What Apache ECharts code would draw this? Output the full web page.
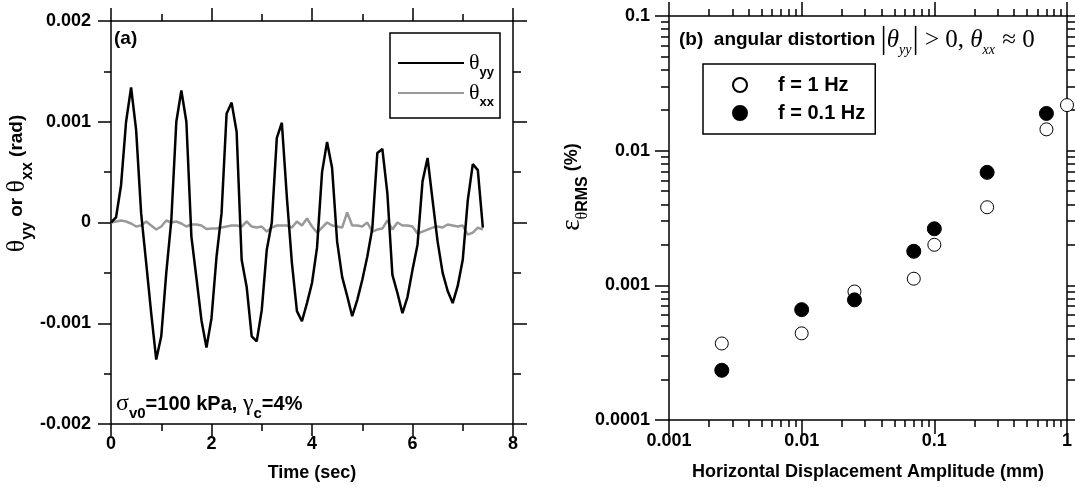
<!DOCTYPE html>
<html>
<head>
<meta charset="utf-8">
<script src="https://cdn.jsdelivr.net/npm/echarts@6/dist/echarts.min.js"></script>
<style>
html,body{margin:0;padding:0;background:#fff;}
#c{width:1075px;height:487px;}
</style>
</head>
<body>
<div id="c"></div>
<script>
// ---------- (a) time histories ----------
const timeSec = [
  0.0,0.1,0.2,0.3,0.4,0.5,0.6,0.7,0.8,0.9,
  1.0,1.1,1.2,1.3,1.4,1.5,1.6,1.7,1.8,1.9,
  2.0,2.1,2.2,2.3,2.4,2.5,2.6,2.7,2.8,2.9,
  3.0,3.1,3.2,3.3,3.4,3.5,3.6,3.7,3.8,3.9,
  4.0,4.1,4.2,4.3,4.4,4.5,4.6,4.7,4.8,4.9,
  5.0,5.1,5.2,5.3,5.4,5.5,5.6,5.7,5.8,5.9,
  6.0,6.1,6.2,6.3,6.4,6.5,6.6,6.7,6.8,6.9,
  7.0,7.1,7.2,7.3,7.4
];
const thetaYY = [
  0.00000, 0.00005, 0.00037, 0.00100, 0.00134, 0.00092, 0.00009,-0.00040,-0.00090,-0.00136,
 -0.00113,-0.00050, 0.00002, 0.00100, 0.00131, 0.00100,-0.00014,-0.00055,-0.00097,-0.00124,
 -0.00095,-0.00034, 0.00009, 0.00108, 0.00119, 0.00090,-0.00037,-0.00064,-0.00113,-0.00118,
 -0.00087,-0.00027, 0.00000, 0.00084, 0.00099, 0.00025,-0.00040,-0.00088,-0.00098,-0.00080,
 -0.00060,-0.00025, 0.00050, 0.00080, 0.00054,-0.00019,-0.00054,-0.00073,-0.00093,-0.00077,
 -0.00057,-0.00034,-0.00006, 0.00069, 0.00073, 0.00029,-0.00052,-0.00070,-0.00090,-0.00074,
 -0.00047,-0.00022, 0.00041, 0.00064, 0.00022,-0.00019,-0.00050,-0.00068,-0.00080,-0.00063,
 -0.00037, 0.00022, 0.00058, 0.00052,-0.00005
];
const thetaXX = [
  0.000000, 0.000010, 0.000020, 0.000010,-0.000010,-0.000040,-0.000030, 0.000010,-0.000030,-0.000070,
 -0.000040, 0.000020, 0.000000, 0.000010,-0.000010,-0.000040,-0.000020,-0.000020,-0.000030,-0.000065,
 -0.000060,-0.000060,-0.000050,-0.000040,-0.000030,-0.000030,-0.000040, 0.000010,-0.000040,-0.000050,
 -0.000040,-0.000090,-0.000050,-0.000030,-0.000030,-0.000030,-0.000050, 0.000010,-0.000030, 0.000040,
 -0.000040,-0.000100,-0.000050, 0.000000,-0.000030,-0.000040,-0.000050, 0.000100,-0.000030,-0.000030,
 -0.000040, 0.000000,-0.000090,-0.000070,-0.000060, 0.000020,-0.000070, 0.000000,-0.000030,-0.000030,
 -0.000040,-0.000110,-0.000090,-0.000070,-0.000050,-0.000040,-0.000050,-0.000020,-0.000030,-0.000040,
 -0.000030,-0.000120,-0.000100,-0.000050,-0.000070
];
const seriesNamesA = ['θyy', 'θxx'];

// ---------- (b) RMS angular distortion ----------
const dispAmp1Hz  = [0.0025, 0.01, 0.025, 0.07, 0.1, 0.25, 0.7, 1.0];
const eps1Hz      = [0.00037, 0.00044, 0.00090, 0.00112, 0.0020, 0.0038, 0.0144, 0.0218];
const dispAmp01Hz = [0.0025, 0.01, 0.025, 0.07, 0.1, 0.25, 0.7];
const eps01Hz     = [0.000234, 0.00066, 0.00078, 0.00179, 0.00263, 0.0069, 0.0189];
const seriesNamesB = ['f = 1 Hz', 'f = 0.1 Hz'];
const xTickLabelsB = ['0.001', '0.01', '0.1', '1'];
const yTickLabelsB = ['0.0001', '0.001', '0.01', '0.1'];
const minorMultipliers = [2, 3, 4, 5, 6, 7, 8, 9];

function labelFor(list) {
  return function (v) {
    for (const s of list) { if (Math.abs(Number(s) - v) <= Math.abs(v) * 1e-6) return s; }
    return '';
  };
}
function logMinor(decadesFrom, decadesTo) {
  const out = [];
  for (let d = decadesFrom; d < decadesTo; d++) {
    for (const m of minorMultipliers) out.push(d + Math.log10(m));
  }
  return out;
}

const SANS = 'Liberation Sans';
const SERIF = 'Liberation Serif';
const lineW = 1.5;
const axLine = { show: true, onZero: false, lineStyle: { color: '#000', width: lineW } };
const noLine = { show: false, onZero: false };
const tickStyle = { color: '#000', width: lineW };
const lblStyle = { color: '#000', fontFamily: SANS, fontWeight: 'bold', fontSize: 18 };
const titleStyle = { color: '#000', fontFamily: SANS, fontWeight: 'bold', fontSize: 18 };

const chart = echarts.init(document.getElementById('c'), null, { renderer: 'canvas' });

const option = {
  backgroundColor: '#fff',
  animation: false,
  grid: [
    { left: 111, top: 21, width: 402, height: 403 },
    { left: 669, top: 16, width: 402, height: 404 }
  ],
  legend: [
    {
      data: seriesNamesA,
      left: 390, top: 33,
      orient: 'vertical',
      padding: [19, 6, 9, 7],
      itemWidth: 66, itemHeight: 14, itemGap: 3,
      borderColor: '#000', borderWidth: 1.5,
      backgroundColor: '#fff',
      itemStyle: { opacity: 0 },
      formatter: function (name) { return '{t|θ}{s|' + name.slice(1) + '}'; },
      textStyle: {
        color: '#000',
        rich: {
          t: { fontFamily: SERIF, fontSize: 22, color: '#000', lineHeight: 20, verticalAlign: 'middle' },
          s: { fontFamily: SANS, fontWeight: 'bold', fontSize: 13, color: '#000', lineHeight: 13, verticalAlign: 'bottom', padding: [0, 0, -6, 0] }
        }
      }
    },
    {
      data: seriesNamesB,
      left: 703, top: 64,
      orient: 'vertical',
      padding: [11, 10, 11, 29],
      itemWidth: 66, itemHeight: 14, itemGap: 8,
      borderColor: '#000', borderWidth: 1.5,
      textStyle: { color: '#000', fontFamily: SANS, fontWeight: 'bold', fontSize: 20, lineHeight: 20 }
    }
  ],
  xAxis: [
    { // 0: (a) bottom
      gridIndex: 0, type: 'value', position: 'bottom', min: 0, max: 8, interval: 2,
      axisLine: axLine,
      axisTick: { length: 12, lineStyle: tickStyle },
      minorTick: { show: true, splitNumber: 2, length: 7, lineStyle: tickStyle },
      splitLine: { show: false }, minorSplitLine: { show: false },
      axisLabel: Object.assign({ margin: 11 }, lblStyle),
      name: 'Time (sec)', nameLocation: 'middle', nameGap: 40,
      nameTextStyle: titleStyle
    },
    { // 1: (a) top mirror
      gridIndex: 0, type: 'value', position: 'top', min: 0, max: 8, interval: 2,
      axisLine: axLine,
      axisTick: { length: 13, lineStyle: tickStyle },
      minorTick: { show: true, splitNumber: 2, length: 7, lineStyle: tickStyle },
      splitLine: { show: false }, axisLabel: { show: false }
    },
    { // 2: (b) bottom log
      gridIndex: 1, type: 'log', logBase: 10, position: 'bottom', min: 0.001, max: 1,
      axisLine: axLine,
      axisTick: { length: 14, lineStyle: tickStyle },
      splitLine: { show: false },
      axisLabel: Object.assign({ margin: 12, formatter: labelFor(xTickLabelsB) }, lblStyle),
      name: 'Horizontal Displacement Amplitude (mm)', nameLocation: 'middle', nameGap: 43,
      nameTextStyle: titleStyle
    },
    { // 3: (b) bottom minor ticks
      gridIndex: 1, type: 'value', position: 'bottom', min: -3, max: 0,
      axisLine: noLine,
      axisTick: { length: 7, customValues: logMinor(-3, 0), lineStyle: tickStyle },
      splitLine: { show: false }, axisLabel: { show: false }
    },
    { // 4: (b) top log
      gridIndex: 1, type: 'log', logBase: 10, position: 'top', min: 0.001, max: 1,
      axisLine: axLine,
      axisTick: { length: 14, lineStyle: tickStyle },
      splitLine: { show: false }, axisLabel: { show: false }
    },
    { // 5: (b) top minor ticks
      gridIndex: 1, type: 'value', position: 'top', min: -3, max: 0,
      axisLine: noLine,
      axisTick: { length: 7, customValues: logMinor(-3, 0), lineStyle: tickStyle },
      splitLine: { show: false }, axisLabel: { show: false }
    }
  ],
  yAxis: [
    { // 0: (a) left
      gridIndex: 0, type: 'value', position: 'left', min: -0.002, max: 0.002, interval: 0.001,
      axisLine: axLine,
      axisTick: { length: 13, lineStyle: tickStyle },
      minorTick: { show: true, splitNumber: 2, length: 7, lineStyle: tickStyle },
      splitLine: { show: false }, minorSplitLine: { show: false },
      axisLabel: Object.assign({ margin: 20 }, lblStyle),
      name: '{t|θ}{s|yy}{n| or }{t|θ}{s|xx}{n| (rad)}',
      nameLocation: 'middle', nameRotate: 90, nameGap: 72,
      nameTextStyle: {
        padding: [0, 0, 0, 78],
        rich: {
          t: { fontFamily: SERIF, fontSize: 26, color: '#000', lineHeight: 26, verticalAlign: 'middle' },
          s: { fontFamily: SANS, fontWeight: 'bold', fontSize: 16, color: '#000', lineHeight: 16, verticalAlign: 'bottom', padding: [0, 0, -6, 0] },
          n: { fontFamily: SANS, fontWeight: 'bold', fontSize: 19, color: '#000', lineHeight: 26, verticalAlign: 'middle' }
        }
      }
    },
    { // 1: (a) right mirror
      gridIndex: 0, type: 'value', position: 'right', min: -0.002, max: 0.002, interval: 0.001,
      axisLine: axLine,
      axisTick: { length: 14, lineStyle: tickStyle },
      minorTick: { show: true, splitNumber: 2, length: 8, lineStyle: tickStyle },
      splitLine: { show: false }, axisLabel: { show: false }
    },
    { // 2: (b) left log
      gridIndex: 1, type: 'log', logBase: 10, position: 'left', min: 0.0001, max: 0.1,
      axisLine: axLine,
      axisTick: { length: 14, lineStyle: tickStyle },
      splitLine: { show: false },
      axisLabel: Object.assign({ margin: 19, formatter: labelFor(yTickLabelsB) }, lblStyle),
      name: '{e|ε}{s|θ}{r|RMS}{n| (%)}',
      nameLocation: 'middle', nameRotate: 90, nameGap: 81,
      nameTextStyle: {
        padding: [0, 0, 0, 62],
        rich: {
          e: { fontFamily: SERIF, fontSize: 27, color: '#000', lineHeight: 26, verticalAlign: 'middle' },
          s: { fontFamily: SERIF, fontSize: 16, color: '#000', lineHeight: 16, verticalAlign: 'bottom', padding: [0, 0, -6, 0] },
          r: { fontFamily: SANS, fontWeight: 'bold', fontSize: 16, color: '#000', lineHeight: 16, verticalAlign: 'bottom', padding: [0, 0, -6, 0] },
          n: { fontFamily: SANS, fontWeight: 'bold', fontSize: 18, color: '#000', lineHeight: 26, verticalAlign: 'middle' }
        }
      }
    },
    { // 3: (b) left minor ticks
      gridIndex: 1, type: 'value', position: 'left', min: -4, max: -1,
      axisLine: noLine,
      axisTick: { length: 8, customValues: logMinor(-4, -1), lineStyle: tickStyle },
      splitLine: { show: false }, axisLabel: { show: false }
    },
    { // 4: (b) right log
      gridIndex: 1, type: 'log', logBase: 10, position: 'right', min: 0.0001, max: 0.1,
      axisLine: axLine,
      axisTick: { length: 14, lineStyle: tickStyle },
      splitLine: { show: false }, axisLabel: { show: false }
    },
    { // 5: (b) right minor ticks
      gridIndex: 1, type: 'value', position: 'right', min: -4, max: -1,
      axisLine: noLine,
      axisTick: { length: 8, customValues: logMinor(-4, -1), lineStyle: tickStyle },
      splitLine: { show: false }, axisLabel: { show: false }
    }
  ],
  series: [
    {
      name: seriesNamesA[0], type: 'line', xAxisIndex: 0, yAxisIndex: 0,
      data: timeSec.map((t, i) => [t, thetaYY[i]]),
      symbol: 'none', z: 3,
      lineStyle: { color: '#000', width: 2.5 }, itemStyle: { color: '#000' }
    },
    {
      name: seriesNamesA[1], type: 'line', xAxisIndex: 0, yAxisIndex: 0,
      data: timeSec.map((t, i) => [t, thetaXX[i]]),
      symbol: 'none', z: 2,
      lineStyle: { color: '#999', width: 2.5 }, itemStyle: { color: '#999' }
    },
    {
      name: seriesNamesB[0], type: 'scatter', xAxisIndex: 2, yAxisIndex: 2,
      data: dispAmp1Hz.map((x, i) => [x, eps1Hz[i]]),
      symbol: 'circle', symbolSize: 13, clip: false,
      itemStyle: { color: '#fff', borderColor: '#000', borderWidth: 1, opacity: 1 }
    },
    {
      name: seriesNamesB[1], type: 'scatter', xAxisIndex: 2, yAxisIndex: 2,
      data: dispAmp01Hz.map((x, i) => [x, eps01Hz[i]]),
      symbol: 'circle', symbolSize: 14, clip: false,
      itemStyle: { color: '#000', borderColor: '#000', borderWidth: 1, opacity: 1 }
    }
  ],
  graphic: [
    {
      type: 'text', left: 114, top: 29,
      style: { text: '(a)', fill: '#000', font: 'bold 19px "Liberation Sans"' }
    },
    {
      type: 'text', x: 116, y: 404,
      style: {
        text: '{g|σ}{s|v0}{n|=100 kPa, }{g|γ}{s|c}{n|=4%}',
        verticalAlign: 'middle',
        rich: {
          g: { fontFamily: SERIF, fontSize: 24, fill: '#000', lineHeight: 24, verticalAlign: 'middle' },
          s: { fontFamily: SANS, fontWeight: 'bold', fontSize: 15, fill: '#000', lineHeight: 15, verticalAlign: 'bottom', padding: [0, 0, -5, 0] },
          n: { fontFamily: SANS, fontWeight: 'bold', fontSize: 20, fill: '#000', lineHeight: 24, verticalAlign: 'middle' }
        }
      }
    },
    {
      type: 'text', x: 679, y: 40,
      style: {
        text: '{b|(b)  angular distortion }{bar||}{m|θ}{ms|yy}{bar||}{r| > 0, }{m|θ}{ms|xx}{r| ≈ 0}',
        verticalAlign: 'middle',
        rich: {
          b: { fontFamily: SANS, fontWeight: 'bold', fontSize: 19, fill: '#000', lineHeight: 30, verticalAlign: 'middle' },
          bar: { fontFamily: SERIF, fontSize: 31, fill: '#000', lineHeight: 30, verticalAlign: 'middle' },
          m: { fontFamily: SERIF, fontStyle: 'italic', fontSize: 25, fill: '#000', lineHeight: 30, verticalAlign: 'middle' },
          ms: { fontFamily: SERIF, fontStyle: 'italic', fontSize: 14, fill: '#000', lineHeight: 14, verticalAlign: 'bottom', padding: [0, 1, -2, 0] },
          r: { fontFamily: SERIF, fontSize: 25, fill: '#000', lineHeight: 30, verticalAlign: 'middle' }
        }
      }
    }
  ]
};
chart.setOption(option);
</script>
</body>
</html>
